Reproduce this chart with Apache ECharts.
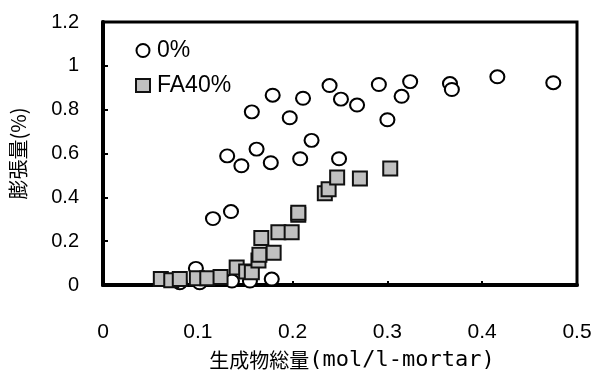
<!DOCTYPE html>
<html>
<head>
<meta charset="utf-8">
<script src="https://cdn.jsdelivr.net/npm/echarts@6/dist/echarts.min.js"></script>
<style>
html,body{margin:0;padding:0;background:#fff;}
#c{width:601px;height:376px;}
</style>
</head>
<body>
<div id="c"></div>
<script>
// 0% series: [生成物総量, 膨張量]
const plainX = [0.157,0.179,0.197,0.211,0.239,0.251,0.268,0.291,0.300,0.315,0.324,0.366,0.368,0.416,0.475,
                0.131,0.146,0.162,0.177,0.208,0.220,0.249,
                0.116,0.135,0.098,0.081,0.102,0.136,0.155,0.178];
const plainY = [0.790,0.866,0.763,0.852,0.910,0.848,0.821,0.915,0.754,0.861,0.928,0.919,0.892,0.950,0.923,
                0.589,0.544,0.620,0.558,0.576,0.660,0.576,
                0.303,0.335,0.076,0.010,0.010,0.018,0.018,0.027];
// FA40% series
const faX = [0.061,0.072,0.081,0.099,0.110,0.124,0.141,0.151,0.157,0.164,0.165,0.167,0.180,0.185,0.199,0.206,0.206,0.234,0.238,0.247,0.271,0.303];
const faY = [0.027,0.022,0.027,0.031,0.031,0.036,0.080,0.062,0.058,0.112,0.138,0.214,0.147,0.241,0.241,0.321,0.330,0.419,0.437,0.491,0.486,0.531];

const seriesNames = ['0%','FA40%'];
const xAxisNameCJK = '生成物総量';
const xAxisNameUnit = '(mol/l-mortar)';
const yAxisName = '膨張量(%)';

const plainData = plainX.map((x,i)=>[x, plainY[i]]);
const faData = faX.map((x,i)=>[x, faY[i]]);

const chart = echarts.init(document.getElementById('c'), null, {renderer:'canvas'});
chart.setOption({
  animation:false,
  backgroundColor:'#fff',
  grid:{left:103,right:24,top:22,bottom:85,show:true,borderColor:'#000',borderWidth:3,backgroundColor:'transparent'},
  legend:{
    orient:'vertical',left:135,top:39,padding:0,itemGap:12,itemWidth:14,itemHeight:13,
    selectedMode:false,
    textStyle:{fontSize:23,fontFamily:'Liberation Sans, Arial, sans-serif',color:'#000',padding:[0,0,0,2]},
    data:seriesNames
  },
  xAxis:{
    type:'value',min:0,max:0.5,interval:0.1,
    name:'{a|' + xAxisNameCJK + '}{b|' + xAxisNameUnit + '}',
    nameLocation:'middle',nameGap:64,
    nameTextStyle:{
      color:'#000',padding:[0,0,0,24],
      rich:{
        a:{fontSize:20,fontFamily:'Noto Sans CJK JP',color:'#000'},
        b:{fontSize:22,fontFamily:'DejaVu Sans Mono, Liberation Mono, monospace',color:'#000'}
      }
    },
    axisLine:{show:true,onZero:false,lineStyle:{color:'#000',width:4}},
    axisTick:{show:true,inside:true,length:4,lineStyle:{color:'#000',width:2}},
    axisLabel:{fontSize:21,fontFamily:'Liberation Sans Narrow, Arial Narrow, Liberation Sans, sans-serif',color:'#000',margin:37},
    splitLine:{show:false}
  },
  yAxis:{
    type:'value',min:0,max:1.2,interval:0.2,
    name:yAxisName,nameLocation:'middle',nameGap:75,nameRotate:90,
    nameTextStyle:{fontSize:20,fontFamily:'Noto Sans CJK JP',color:'#000'},
    axisLine:{show:true,onZero:false,lineStyle:{color:'#000',width:4}},
    axisTick:{show:true,inside:true,length:5,lineStyle:{color:'#000',width:2}},
    axisLabel:{fontSize:20,fontFamily:'Liberation Sans, Arial, sans-serif',color:'#000',margin:24},
    splitLine:{show:false}
  },
  series:[
    {name:seriesNames[0],type:'scatter',data:plainData,symbol:'circle',symbolSize:[14,13],
     itemStyle:{color:'#fff',borderColor:'#000',borderWidth:2,opacity:1},emphasis:{disabled:true}},
    {name:seriesNames[1],type:'scatter',data:faData,symbol:'rect',symbolSize:14,
     itemStyle:{color:'#c0c0c0',borderColor:'#111',borderWidth:2,opacity:1},emphasis:{disabled:true}}
  ]
});
</script>
</body>
</html>
